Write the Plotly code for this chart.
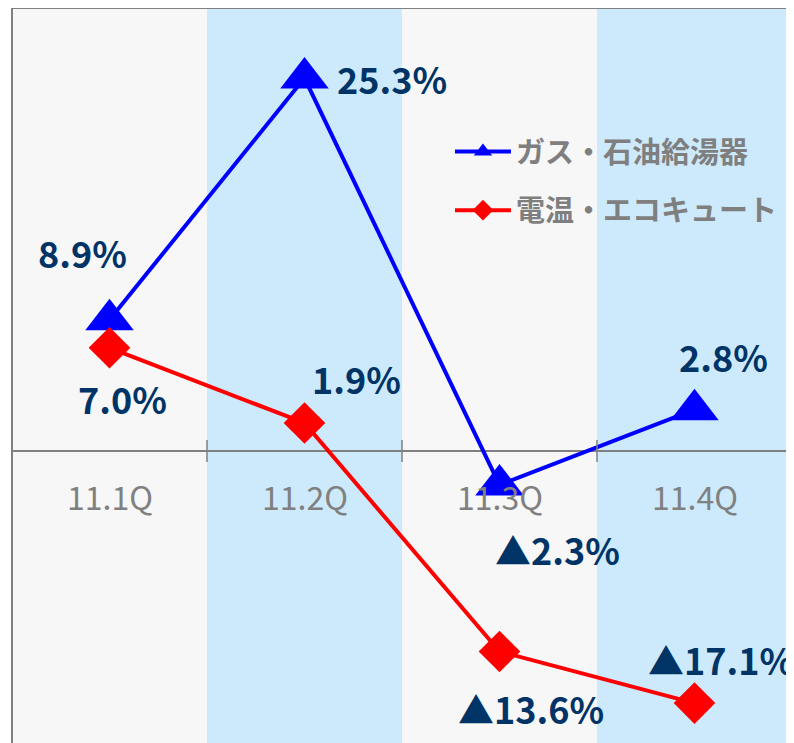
import plotly.graph_objects as go

# Data
quarters = ["11.1Q", "11.2Q", "11.3Q", "11.4Q"]
gas_oil = [8.9, 25.3, -2.3, 2.8]
eco_cute = [7.0, 1.9, -13.6, -17.1]
gas_name = "ガス・石油給湯器"
eco_name = "電温・エコキュート"

# label offsets (px) relative to each point
gas_shift = [(-27, 68), (87, 0), (58, -64), (29, 54)]
eco_shift = [(13, -50), (52, 45), (31, -57), (26, 44)]

LABEL_FONT = dict(family="Noto Sans CJK JP, sans-serif", size=36, color="#003366")


def fmt(v):
    # Japanese style: negative values shown with a triangle
    if v < 0:
        return "▲{:.1f}%".format(-v)
    return "{:.1f}%".format(v)


fig = go.Figure()
fig.add_trace(go.Scatter(
    x=quarters, y=gas_oil, name=gas_name, mode="lines+markers",
    line=dict(color="#0000ff", width=4),
    marker=dict(symbol="triangle-up", size=42, color="#0000ff"),
    legendgroup="a"))
fig.add_trace(go.Scatter(
    x=quarters, y=eco_cute, name=eco_name, mode="lines+markers",
    line=dict(color="#ff0000", width=4),
    marker=dict(symbol="diamond", size=32, color="#ff0000"),
    legendgroup="b"))

# alternating background bands
for i in range(len(quarters)):
    fig.add_shape(type="rect", xref="x", yref="paper",
                  x0=i - 0.5, x1=i + 0.5, y0=0, y1=1, layer="below",
                  fillcolor="#f7f7f7" if i % 2 == 0 else "#cdeafc",
                  line=dict(width=0))

# tick marks on the zero line between categories
for i in range(len(quarters) - 1):
    fig.add_shape(type="line", xref="x", yref="y",
                  x0=i + 0.5, x1=i + 0.5, y0=-0.75, y1=0.75,
                  line=dict(color="#808080", width=1.5))

# frame
fig.add_shape(type="rect", xref="paper", yref="paper",
              x0=0, x1=1, y0=-0.05, y1=1, line=dict(color="#808080", width=2))

# category labels
for q in quarters:
    fig.add_annotation(x=q, y=0, text=q, showarrow=False, yshift=-45,
                       font=dict(family="Noto Sans CJK JP, sans-serif",
                                 size=32, color="#808080"))

# data labels
for vals, shifts in [(gas_oil, gas_shift), (eco_cute, eco_shift)]:
    for q, v, (dx, dy) in zip(quarters, vals, shifts):
        fig.add_annotation(x=q, y=v, text="<b>" + fmt(v) + "</b>", showarrow=False,
                           xshift=dx, yshift=dy, font=LABEL_FONT)

fig.update_layout(
    width=794, height=743,
    margin=dict(l=4, r=10, t=0, b=0),
    paper_bgcolor="white", plot_bgcolor="#f7f7f7",
    xaxis=dict(range=[-0.5, 3.5], showticklabels=False, showgrid=False,
               zeroline=False, fixedrange=True),
    yaxis=dict(range=[-20.35, 30.05], showticklabels=False, showgrid=False,
               zeroline=True, zerolinecolor="#808080", zerolinewidth=2),
    showlegend=True,
    legend=dict(x=0.5615, y=0.841, xanchor="left", yanchor="top",
                bgcolor="rgba(0,0,0,0)", tracegroupgap=18, itemwidth=56,
                font=dict(family="Noto Sans CJK JP", size=29, color="#7f7f7f",
                          weight="bold")),
)

fig.write_html("out.html")
